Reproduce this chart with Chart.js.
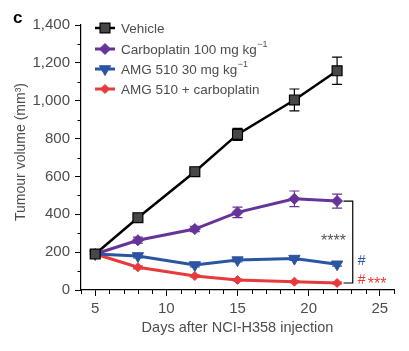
<!DOCTYPE html>
<html><head><meta charset="utf-8">
<script src="https://cdn.jsdelivr.net/npm/chart.js@4.4.1/dist/chart.umd.min.js"></script>
<style>html,body{margin:0;padding:0;background:#fff}#wrap{width:409px;height:351px}</style>
</head><body><div id="wrap"><canvas id="chart" width="409" height="351"></canvas></div>
<script>
// data (tumour volume, mm3)
const days = [5, 8, 12, 15, 19, 22];
const names = ['Vehicle', 'Carboplatin 100 mg kg', 'AMG 510 30 mg kg', 'AMG 510 + carboplatin'];
const nameSup = ['', '\u22121', '\u22121', ''];
const vehicle = [190, 382, 625, 822, 1004, 1158];
const vehicleErr = [12, 14, 16, 32, 58, 72];
const carbo = [190, 263, 322, 410, 482, 470];
const carboErr = [10, 16, 14, 28, 41, 37];
const amg = [190, 180, 132, 158, 166, 136];
const amgErr = [8, 10, 10, 10, 10, 10];
const combo = [190, 120, 74, 53, 44, 37];
const comboErr = [8, 8, 6, 5, 5, 5];
const xTicks = [5, 10, 15, 20, 25];

const FONT = '"Liberation Sans", Arial, sans-serif';
const GREY = '#4d4d4d';
const colors = ['#000000', '#663399', '#2b55a3', '#e63a3c'];

const errorBars = {
  id: 'errorBars',
  beforeDatasetsDraw(chart) {
    const { ctx, scales: { x, y } } = chart;
    ctx.save();
    ctx.lineWidth = 1.2;
    chart.data.datasets.forEach((ds) => {
      ctx.strokeStyle = ds.errColor;
      ds.data.forEach((p, i) => {
        const px = x.getPixelForValue(p.x);
        const t = y.getPixelForValue(p.y + ds.errors[i]);
        const b = y.getPixelForValue(p.y - ds.errors[i]);
        ctx.beginPath();
        ctx.moveTo(px, t); ctx.lineTo(px, b);
        ctx.moveTo(px - 5, t); ctx.lineTo(px + 5, t);
        ctx.moveTo(px - 5, b); ctx.lineTo(px + 5, b);
        ctx.stroke();
      });
    });
    ctx.restore();
  }
};

const extras = {
  id: 'extras',
  afterDraw(chart) {
    const { ctx, scales: { x, y } } = chart;
    ctx.save();
    // minor ticks
    ctx.strokeStyle = '#000'; ctx.lineWidth = 1;
    ctx.beginPath();
    for (let v = 100; v < 1400; v += 200) {
      const py = Math.round(y.getPixelForValue(v)) + 0.5;
      ctx.moveTo(y.right - 3.5, py); ctx.lineTo(y.right, py);
    }
    for (let d = 4; d <= 26; d++) {
      if (d % 5 === 0) continue;
      const px = Math.round(x.getPixelForValue(d)) + 0.5;
      ctx.moveTo(px, x.top); ctx.lineTo(px, x.top + 4);
    }
    ctx.stroke();

    // panel letter
    ctx.fillStyle = '#000';
    ctx.font = 'bold 17px ' + FONT;
    ctx.textBaseline = 'alphabetic';
    ctx.fillText('c', 13, 23);

    // y axis title
    ctx.save();
    ctx.translate(21, 152);
    ctx.rotate(-Math.PI / 2);
    ctx.fillStyle = GREY; ctx.font = '14px ' + FONT;
    ctx.textAlign = 'center'; ctx.textBaseline = 'middle';
    ctx.fillText('Tumour volume (mm\u00b3)', 0, 0);
    ctx.restore();

    // legend
    const rows = [28, 49, 69, 89];
    chart.data.datasets.forEach((ds, i) => {
      const ry = rows[i];
      ctx.strokeStyle = ds.borderColor; ctx.lineWidth = ds.borderWidth;
      ctx.beginPath(); ctx.moveTo(95, ry); ctx.lineTo(115, ry); ctx.stroke();
      ctx.fillStyle = ds.pointBackgroundColor; ctx.strokeStyle = ds.pointBorderColor;
      ctx.lineWidth = ds.pointBorderWidth;
      Chart.helpers.drawPoint(ctx, { pointStyle: ds.pointStyle, radius: ds.pointRadius, rotation: ds.pointRotation || 0, borderWidth: ds.pointBorderWidth }, 105, ry);
      ctx.fillStyle = GREY; ctx.font = '13.5px ' + FONT; ctx.textBaseline = 'middle';
      ctx.fillText(names[i], 121, ry + 1);
      if (nameSup[i]) {
        const w = ctx.measureText(names[i]).width;
        ctx.font = '9px ' + FONT;
        ctx.fillText(nameSup[i], 121 + w + 0.5, ry - 4);
      }
    });

    // significance bracket
    const bx0 = x.getPixelForValue(22.45), bx1 = x.getPixelForValue(23.1);
    const by0 = y.getPixelForValue(carbo[5]), by1 = y.getPixelForValue(combo[5]);
    ctx.strokeStyle = '#000'; ctx.lineWidth = 1.2;
    ctx.beginPath();
    ctx.moveTo(bx0, by0); ctx.lineTo(bx1, by0); ctx.lineTo(bx1, by1); ctx.lineTo(bx0, by1);
    ctx.stroke();
    ctx.font = '16px ' + FONT; ctx.textBaseline = 'alphabetic'; ctx.textAlign = 'center';
    ctx.fillStyle = '#555';
    ctx.fillText('****', x.getPixelForValue(21.75), y.getPixelForValue(232));
    ctx.textAlign = 'left';
    ctx.font = '14px ' + FONT; ctx.textBaseline = 'middle';
    ctx.fillStyle = colors[2];
    ctx.fillText('#', x.getPixelForValue(23.45), y.getPixelForValue(153));
    ctx.fillStyle = colors[3];
    ctx.fillText('#', x.getPixelForValue(23.45), y.getPixelForValue(52));
    ctx.font = '16px ' + FONT; ctx.textBaseline = 'alphabetic';
    ctx.fillText('***', x.getPixelForValue(24.15), y.getPixelForValue(3));
    ctx.restore();
  }
};

function ds(label, data, errors, color, style, extra) {
  return Object.assign({
    label, data: data.map((v, i) => ({ x: days[i], y: v })), errors,
    borderColor: color, borderWidth: 3, errColor: color,
    pointBackgroundColor: color, pointBorderColor: color, pointBorderWidth: 1,
    pointStyle: style, pointRadius: 5, pointHoverRadius: 5, tension: 0
  }, extra || {});
}

new Chart(document.getElementById('chart'), {
  type: 'line',
  data: {
    datasets: [
      ds(names[0], vehicle, vehicleErr, '#000', 'rect', { borderWidth: 2.5, pointBackgroundColor: '#474747', pointBorderWidth: 1.2, pointRadius: 7, pointHoverRadius: 7 }),
      ds(names[1], carbo, carboErr, colors[1], 'rectRot', { pointRadius: 5.5, pointHoverRadius: 5.5 }),
      ds(names[2], amg, amgErr, colors[2], 'triangle', { pointRotation: 180, pointRadius: 6.5, pointHoverRadius: 6.5 }),
      ds(names[3], combo, comboErr, colors[3], 'rectRot', { pointRadius: 4.5, pointHoverRadius: 4.5 })
    ]
  },
  options: {
    responsive: false, animation: false, devicePixelRatio: 1,
    layout: { padding: { top: 25, right: 15, left: 0, bottom: 0 } },
    plugins: { legend: { display: false }, tooltip: { enabled: false } },
    scales: {
      x: {
        type: 'linear', min: 4, max: 26,
        afterBuildTicks(s) { s.ticks = xTicks.map(v => ({ value: v })); },
        afterFit(s) { s.height = 61; },
        ticks: { color: GREY, font: { family: FONT, size: 15 }, padding: 4, maxRotation: 0, autoSkip: false },
        grid: { drawOnChartArea: false, tickLength: 6, tickColor: '#000', tickWidth: 1 },
        border: { color: '#000', width: 1.2 },
        title: { display: true, text: 'Days after NCI-H358 injection', color: GREY, font: { family: FONT, size: 14.5 }, padding: { bottom: 14 } }
      },
      y: {
        min: 0, max: 1400,
        afterFit(s) { s.width = 81; },
        ticks: { stepSize: 200, color: GREY, font: { family: FONT, size: 15 }, padding: 5, callback: v => v.toLocaleString('en-US') },
        grid: { drawOnChartArea: false, tickLength: 6, tickColor: '#000', tickWidth: 1 },
        border: { color: '#000', width: 1.2 }
      }
    }
  },
  plugins: [errorBars, extras]
});
</script>
</body></html>
